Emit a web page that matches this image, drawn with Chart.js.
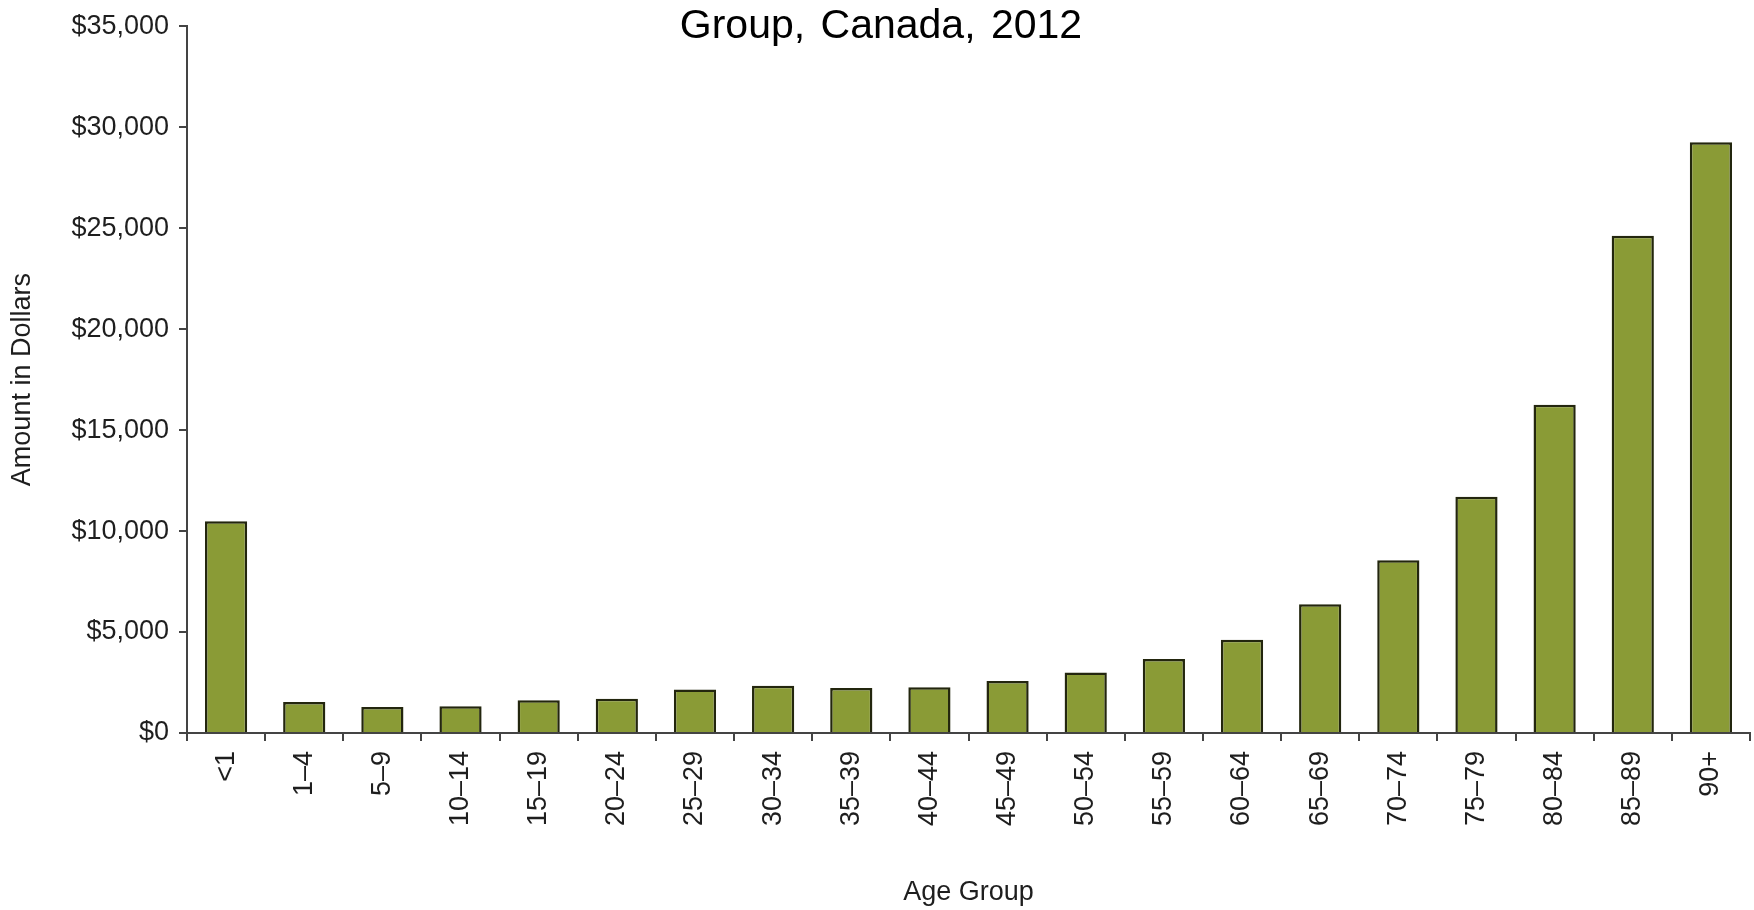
<!DOCTYPE html>
<html>
<head>
<meta charset="utf-8">
<script src="https://cdn.jsdelivr.net/npm/chart.js@4/dist/chart.umd.min.js"></script>
<style>
  html, body { margin: 0; padding: 0; background: #ffffff; }
  #wrap { position: relative; width: 1754px; height: 910px; }
  #title {
    position: absolute; left: 631px; top: 1px; width: 500px;
    text-align: center; font: 41px "Liberation Sans", Arial, sans-serif;
    color: #000; white-space: nowrap; word-spacing: 4px;
  }
</style>
</head>
<body>
<div id="wrap">
  <canvas id="chart" width="1754" height="910"></canvas>
  <div id="title">Group, Canada, 2012</div>
</div>
<script>
// Data
const ageGroups = ["<1", "1–4", "5–9", "10–14", "15–19", "20–24", "25–29", "30–34", "35–39", "40–44",
  "45–49", "50–54", "55–59", "60–64", "65–69", "70–74", "75–79", "80–84", "85–89", "90+"];
const amounts = [10480, 1530, 1290, 1320, 1620, 1700, 2150, 2340, 2230, 2270,
  2580, 3000, 3670, 4620, 6380, 8550, 11700, 16250, 24620, 29250];
const yTicks = [0, 5000, 10000, 15000, 20000, 25000, 30000, 35000];

const axisColor = "#444444";
const textColor = "#1e1e1e";
const fontFamily = '"Liberation Sans", Arial, sans-serif';

const ctx = document.getElementById("chart").getContext("2d");

new Chart(ctx, {
  type: "bar",
  data: {
    labels: ageGroups,
    datasets: [
      {
        label: "Amount",
        data: amounts,
        backgroundColor: "#8a9b36",
        borderColor: "#23260e",
        borderWidth: 2.5,
        borderSkipped: "bottom",
        barPercentage: 0.54,
        categoryPercentage: 1.0,
      },
    ],
  },
  options: {
    responsive: false,
    animation: false,
    layout: { padding: { top: 20, right: 4, left: 0, bottom: 0 } },
    plugins: {
      legend: { display: false },
      tooltip: { enabled: false },
    },
    scales: {
      x: {
        grid: {
          display: true,
          drawOnChartArea: false,
          drawTicks: true,
          tickLength: 8,
          color: axisColor,
          lineWidth: 2,
        },
        border: { display: true, color: axisColor, width: 2 },
        ticks: {
          color: textColor,
          font: { family: fontFamily, size: 27 },
          minRotation: 90,
          maxRotation: 90,
          autoSkip: false,
          padding: 10,
        },
        title: {
          display: true,
          text: "Age Group",
          color: textColor,
          font: { family: fontFamily, size: 27 },
          padding: { top: 0, bottom: 1 },
        },
        afterFit: (scale) => {
          scale.height = 177;
        },
      },
      y: {
        min: 0,
        max: 35000,
        afterBuildTicks: (scale) => {
          scale.ticks = yTicks.map((v) => ({ value: v }));
        },
        grid: {
          display: true,
          drawOnChartArea: false,
          drawTicks: true,
          tickLength: 8,
          color: axisColor,
          lineWidth: 2,
        },
        border: { display: true, color: axisColor, width: 2 },
        ticks: {
          color: textColor,
          font: { family: fontFamily, size: 27 },
          padding: 10,
          callback: (value) => "$" + Number(value).toLocaleString("en-US"),
        },
        title: {
          display: true,
          text: "Amount in Dollars",
          color: textColor,
          font: { family: fontFamily, size: 27 },
          padding: { top: 6, bottom: 0 },
        },
        afterFit: (scale) => {
          scale.width = 187;
        },
      },
    },
  },
});
</script>
</body>
</html>
